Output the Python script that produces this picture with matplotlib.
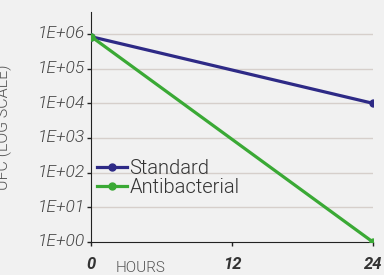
import matplotlib.pyplot as plt
from matplotlib.font_manager import FontProperties

hours = [0, 24]
standard = [8.3e5, 1e4]
antibacterial = [8.3e5, 1]

x_ticks = [0, 12, 24]
x_labels = ["0", "12", "24"]
y_ticks = [1, 1e1, 1e2, 1e3, 1e4, 1e5, 1e6]
y_labels = ["1E+00", "1E+01", "1E+02", "1E+03", "1E+04", "1E+05", "1E+06"]

plt.rcParams["font.family"] = ["Roboto", "DejaVu Sans"]

fig = plt.figure(figsize=(3.84, 2.75), dpi=100)
fig.patch.set_facecolor("#f1f1f1")

ax = fig.add_axes([0.238, 0.12, 0.733, 0.836])
ax.set_facecolor("none")

ax.plot(
    hours,
    standard,
    color="#2e2a86",
    linewidth=2.3,
    marker="o",
    markersize=5,
    label="Standard",
    zorder=3,
)

ax.plot(
    hours,
    antibacterial,
    color="#3aa935",
    linewidth=2.3,
    marker="o",
    markersize=5,
    label="Antibacterial",
    zorder=4,
)

ax.set_yscale("log")
ax.set_ylim(1, 10 ** 6.63)
ax.set_xlim(0, 24)
ax.minorticks_off()

# y labels drawn as texts next to the ticks so the italic style sticks
ax.set_yticks(y_ticks, [""] * len(y_ticks))
ax.set_xticks(x_ticks, x_labels)

y_font = FontProperties(family="Roboto", style="italic", weight=300, size=12.5)
for t, lab in zip(y_ticks, y_labels):
    ax.text(
        -0.022,
        t,
        lab,
        transform=ax.get_yaxis_transform(),
        fontproperties=y_font,
        color="#444444",
        ha="right",
        va="center",
    )

for t in y_ticks[1:]:
    ax.axhline(t, color="#d6cfcb", linewidth=1.0, zorder=1)

for side in ["top", "right"]:
    ax.spines[side].set_visible(False)
ax.spines["left"].set_color("#222222")
ax.spines["bottom"].set_color("#222222")

ax.tick_params(axis="y", length=3, width=1, color="#222222", pad=2)
ax.tick_params(axis="x", length=3, width=1, color="#222222", pad=8)

ax.set_ylabel(
    "UFC (LOG SCALE)",
    fontsize=11.5,
    fontweight=300,
    color="#555555",
    labelpad=52,
)

fig.text(
    0.30,
    0.025,
    "HOURS",
    fontsize=11,
    fontweight=300,
    color="#555555",
    ha="left",
    va="center",
)

ax.legend(
    loc="center left",
    bbox_to_anchor=(0.02, 0.278),
    frameon=False,
    prop=FontProperties(family="Roboto", weight=300, size=14.5),
    labelcolor="#333333",
    handlelength=1.5,
    handletextpad=0.1,
    labelspacing=0.0,
    borderpad=0,
    borderaxespad=0,
)

fig.canvas.draw()
x_font = FontProperties(family="Roboto", style="italic", weight=700, size=12)
for lab in ax.get_xticklabels():
    lab.set_fontproperties(x_font)
    lab.set_color("#333333")

plt.savefig("out.png", dpi=100, facecolor=fig.get_facecolor())
